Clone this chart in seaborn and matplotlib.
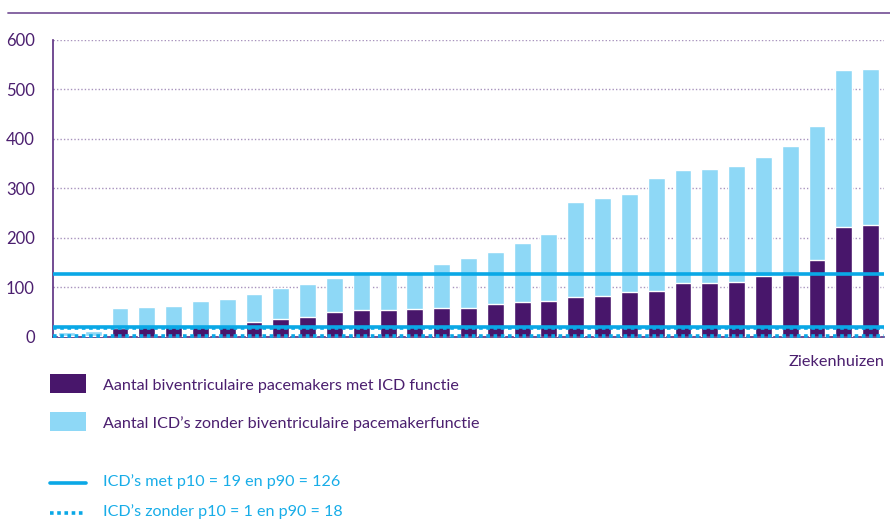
import matplotlib
matplotlib.use("Agg")
import matplotlib.pyplot as plt
import seaborn as sns
import pandas as pd
from matplotlib.patches import Rectangle
from matplotlib.lines import Line2D

# ---- data ----
hospitals = [str(i) for i in range(1, 32)]
met_icd = [1, 1, 17, 19, 19, 19, 21, 29, 35, 40, 50, 54, 54, 56, 58, 58, 66, 70,
           72, 80, 82, 90, 92, 108, 108, 110, 122, 124, 154, 221, 225]
zonder_icd = [8, 10, 41, 41, 43, 53, 55, 57, 63, 66, 68, 73, 73, 74, 88, 100, 106,
              120, 135, 191, 199, 199, 229, 229, 231, 235, 240, 260, 272, 318, 316]
p_met = [19, 126]      # p10, p90 ICD's met
p_zonder = [1, 18]     # p10, p90 ICD's zonder
yticks = [0, 100, 200, 300, 400, 500, 600]

label_dark = "Aantal biventriculaire pacemakers met ICD functie"
label_light = "Aantal ICD\u2019s zonder biventriculaire pacemakerfunctie"
label_met = f"ICD\u2019s met p10 = {p_met[0]} en p90 = {p_met[1]}"
label_zonder = f"ICD\u2019s zonder p10 = {p_zonder[0]} en p90 = {p_zonder[1]}"
xlabel = "Ziekenhuizen"

# ---- style ----
DARK = "#48166b"
LIGHT = "#8ed8f6"
CYAN = "#0aa8e6"
CYAN_TXT = "#18ade8"
PURPLE_TXT = "#4b1f6f"
GRID = "#a893bd"

sns.set_theme(style="white")
plt.rcParams["font.family"] = ["Lato", "DejaVu Sans"]

df = pd.DataFrame({"hospital": hospitals, "met": met_icd, "zonder": zonder_icd})
df["total"] = df["met"] + df["zonder"]

fig = plt.figure(figsize=(8.9, 5.2), dpi=100)
ax = fig.add_axes([53 / 890, 1 - 336.7 / 520, (884 - 53) / 890, (336.7 - 39.5) / 520])

sns.barplot(data=df, x="hospital", y="total", color=LIGHT, saturation=1,
            width=0.63, ax=ax, zorder=2)
sns.barplot(data=df, x="hospital", y="met", color=DARK, saturation=1,
            width=0.63, ax=ax, zorder=3)

ax.set_xlim(-0.5, len(hospitals) - 0.5)
ax.set_ylim(0, 600)
ax.set_yticks(yticks)
ax.set_yticklabels([str(t) for t in yticks], color=PURPLE_TXT, fontsize=12)
ax.set_xticks([])
ax.set_xlabel("")
ax.set_ylabel("")
ax.tick_params(axis="y", length=0, pad=13)
for y in yticks[1:]:
    ax.axhline(y, color=GRID, lw=1.0, ls=(0, (1, 1.5)), zorder=1)

for s in ["top", "right"]:
    ax.spines[s].set_visible(False)
ax.spines["left"].set_color("#5a2d80")
ax.spines["left"].set_linewidth(1.2)
ax.spines["bottom"].set_color("#5a2d80")
ax.spines["bottom"].set_linewidth(1.2)

# percentile lines
for v in p_met:
    ax.axhline(v, color=CYAN, lw=2.6, zorder=5)
for v in p_zonder:
    ax.axhline(v, color=CYAN, lw=2.6, ls=(0, (1, 1)), zorder=5, clip_on=False)

fig.text(885 / 890, 1 - 362 / 520, xlabel, ha="right", va="center",
         color=PURPLE_TXT, fontsize=11.8)

# top rule
fig.add_artist(Line2D([8 / 890, 1.0], [1 - 13 / 520] * 2, color="#7d5a9c", lw=1.3))

# legend
def rect(y0, y1, color):
    fig.add_artist(Rectangle((50 / 890, 1 - y1 / 520), 36 / 890, (y1 - y0) / 520,
                             transform=fig.transFigure, color=color, lw=0))

FS = 11.6
rect(374, 393, DARK)
rect(412, 431, LIGHT)
fig.text(103 / 890, 1 - 386 / 520, label_dark, va="center", color=PURPLE_TXT, fontsize=FS)
fig.text(103 / 890, 1 - 424 / 520, label_light, va="center", color=PURPLE_TXT, fontsize=FS)
fig.add_artist(Line2D([50 / 890, 86 / 890], [1 - 483 / 520] * 2, color=CYAN, lw=2.6))
fig.add_artist(Line2D([50 / 890, 86 / 890], [1 - 513 / 520] * 2, color=CYAN, lw=2.6,
                      ls=(0, (1, 1))))
fig.text(103 / 890, 1 - 482 / 520, label_met, va="center", color=CYAN_TXT, fontsize=FS)
fig.text(103 / 890, 1 - 512 / 520, label_zonder, va="center", color=CYAN_TXT, fontsize=FS)

fig.savefig("out.png", dpi=100)
